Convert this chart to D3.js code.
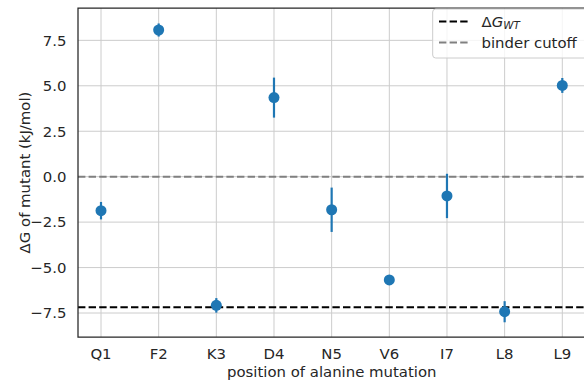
<!DOCTYPE html>
<html>
<head>
<meta charset="utf-8">
<script src="https://cdn.jsdelivr.net/npm/d3@7"></script>
<style>
  body { margin: 0; background: #fff; }
  text { font-family: "DejaVu Sans", sans-serif; fill: #262626; }
</style>
</head>
<body>
<svg id="chart" width="584" height="383"></svg>
<script>
// data
const mutations = ["Q1", "F2", "K3", "D4", "N5", "V6", "I7", "L8", "L9"];
const deltaG = [-1.87, 8.07, -7.08, 4.35, -1.82, -5.68, -1.06, -7.43, 5.02];
const errors = [0.48, 0.36, 0.4, 1.1, 1.22, 0.2, 1.22, 0.58, 0.41];
const yTicks = [-7.5, -5.0, -2.5, 0.0, 2.5, 5.0, 7.5];
const wtValue = -7.19;
const cutoffValue = 0;

const svg = d3.select("#chart");
const mLeft = 78, mRight = 585.5, mTop = 8, mBottom = 337;
const fs = 14.9;

let x = d3.scalePoint().domain(mutations).range([101, 562.3]);
let y = d3.scaleLinear().domain([-8.82, 9.28]).range([mBottom, mTop]);

let g = svg.append("g");

// grid
g.selectAll(".vgrid").data(mutations).enter().append("line")
  .attr("x1", d => x(d)).attr("x2", d => x(d))
  .attr("y1", mTop).attr("y2", mBottom)
  .attr("stroke", "#cccccc").attr("stroke-width", 1);
g.selectAll(".hgrid").data(yTicks).enter().append("line")
  .attr("x1", mLeft).attr("x2", mRight)
  .attr("y1", d => y(d)).attr("y2", d => y(d))
  .attr("stroke", "#cccccc").attr("stroke-width", 1);

// reference lines
g.append("line")
  .attr("x1", mLeft).attr("x2", mRight)
  .attr("y1", y(wtValue)).attr("y2", y(wtValue))
  .attr("stroke", "#000").attr("stroke-width", 2)
  .attr("stroke-dasharray", "7.4,3.2");
g.append("line")
  .attr("x1", mLeft).attr("x2", mRight)
  .attr("y1", y(cutoffValue)).attr("y2", y(cutoffValue))
  .attr("stroke", "#808080").attr("stroke-width", 2)
  .attr("stroke-dasharray", "7.4,3.2");

// error bars + points
g.selectAll(".err").data(mutations).enter().append("line")
  .attr("x1", d => x(d)).attr("x2", d => x(d))
  .attr("y1", (d, i) => y(deltaG[i] - errors[i]))
  .attr("y2", (d, i) => y(deltaG[i] + errors[i]))
  .attr("stroke", "#1f77b4").attr("stroke-width", 2.2);
g.selectAll(".pt").data(mutations).enter().append("circle")
  .attr("cx", d => x(d))
  .attr("cy", (d, i) => y(deltaG[i]))
  .attr("r", 5.5)
  .attr("fill", "#1f77b4");

// spines
g.append("path")
  .attr("d", "M" + mRight + "," + mTop + "H" + mLeft + "V" + mBottom + "H" + mRight)
  .attr("fill", "none").attr("stroke", "#262626").attr("stroke-width", 1.25);

// tick labels
g.selectAll(".xt").data(mutations).enter().append("text")
  .attr("x", d => x(d)).attr("y", 359)
  .attr("text-anchor", "middle").attr("font-size", fs)
  .text(d => d);
g.selectAll(".yt").data(yTicks).enter().append("text")
  .attr("x", 66.5).attr("y", d => y(d)).attr("dy", "0.36em")
  .attr("text-anchor", "end").attr("font-size", fs)
  .text(d => d3.format(".1f")(d));

// axis labels
g.append("text")
  .attr("x", (mLeft + mRight) / 2).attr("y", 376.5)
  .attr("text-anchor", "middle").attr("font-size", fs)
  .text("position of alanine mutation");
g.append("text")
  .attr("transform", "translate(29.5," + (mTop + mBottom) / 2 + ") rotate(-90)")
  .attr("text-anchor", "middle").attr("font-size", fs)
  .text("ΔG of mutant (kJ/mol)");

// legend
let lg = svg.append("g");
lg.append("rect")
  .attr("x", 432.7).attr("y", 9).attr("width", 170).attr("height", 49)
  .attr("rx", 3)
  .attr("fill", "#fff").attr("fill-opacity", 0.8)
  .attr("stroke", "#cccccc").attr("stroke-width", 1);
const legendItems = [{ color: "#000", y: 21.5 }, { color: "#808080", y: 42.5 }];
lg.selectAll(".ll").data(legendItems).enter().append("line")
  .attr("x1", 439).attr("x2", 470)
  .attr("y1", d => d.y).attr("y2", d => d.y)
  .attr("stroke", d => d.color).attr("stroke-width", 2)
  .attr("stroke-dasharray", "7.4,3.2");
let t1 = lg.append("text").attr("x", 481.5).attr("y", 26.5).attr("font-size", fs);
t1.append("tspan").text("Δ");
t1.append("tspan").attr("font-style", "italic").text("G");
t1.append("tspan").attr("font-style", "italic").attr("font-size", fs * 0.7).attr("dy", 2.5).text("WT");
lg.append("text").attr("x", 481.5).attr("y", 47.5).attr("font-size", fs).text("binder cutoff");
</script>
</body>
</html>
